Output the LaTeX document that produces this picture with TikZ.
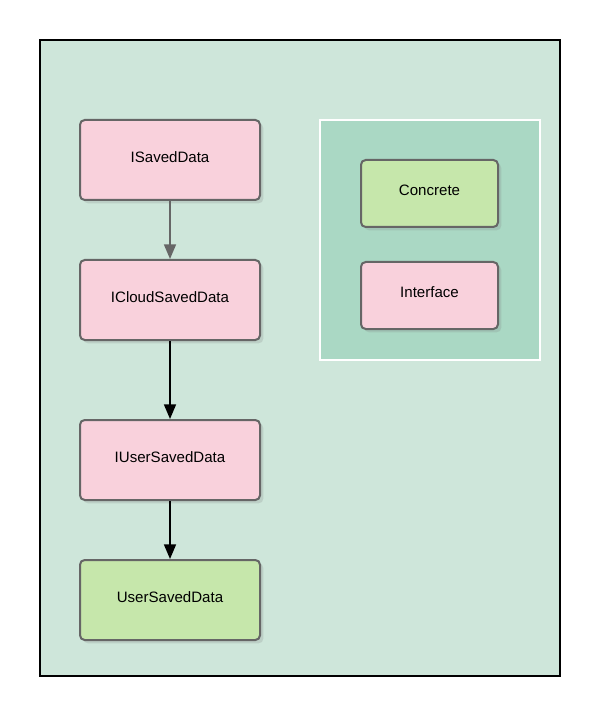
\documentclass[tikz,border=0pt]{standalone}
\usepackage{fontspec}
\setmainfont{Liberation Sans}
\usetikzlibrary{arrows.meta,shadows,positioning}
\definecolor{bgGreen}{HTML}{CEE6DA}
\definecolor{keyGreen}{HTML}{AAD8C4}
\definecolor{ifacePink}{HTML}{F9D1DC}
\definecolor{concGreen}{HTML}{C6E7AB}
\definecolor{edgeGray}{HTML}{666666}
\tikzset{
    box/.style={draw=edgeGray, line width=1.5pt, rounded corners=3.5pt,
        minimum width=135pt, minimum height=60pt, font=\fontsize{11.3}{13}\selectfont,
        text height=8.2pt, text depth=4.6pt,
        drop shadow={shadow xshift=2.5pt, shadow yshift=-2.5pt, opacity=0.22}},
    iface/.style={box, fill=ifacePink},
    conc/.style={box, fill=concGreen},
    keybox/.style={box, minimum width=102.75pt, minimum height=50.25pt},
    link/.style={-{Triangle[length=11pt,width=9pt]}, line width=1.3pt},
}

\begin{document}
\begin{tikzpicture}[x=0.75pt,y=0.75pt,yscale=-1,xscale=1]
\useasboundingbox (0,0) rectangle (600,716);
%Frame
\draw [fill=bgGreen, line width=1.1pt] (40,40) rectangle (560,676);
%Legend
\draw [fill=keyGreen, draw=white, line width=1.3pt] (320,120) rectangle (540,360);
%Chain
\node [iface] (isaved) at (170,160) {ISavedData};
\node [iface] (icloud) at (170,300) {ICloudSavedData};
\node [iface] (iuser) at (170,460) {IUserSavedData};
\node [conc] (user) at (170,600) {UserSavedData};
%Key
\node [keybox, fill=concGreen] (concrete) at (429.5,193.5) {Concrete};
\node [keybox, fill=ifacePink] (interface) at (429.5,295.5) {Interface};
%Arrows
\draw [link, draw=edgeGray, fill=edgeGray] (isaved) -- (icloud);
\draw [link] (icloud) -- (iuser);
\draw [link] (iuser) -- (user);
\end{tikzpicture}
\end{document}
